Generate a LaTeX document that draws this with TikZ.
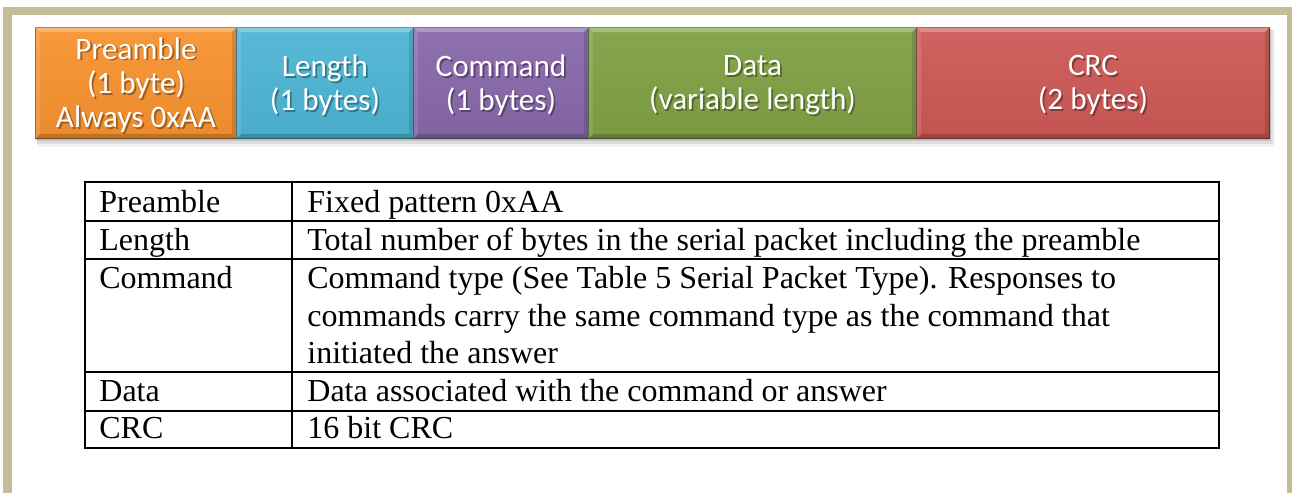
\documentclass[tikz,border=0pt]{standalone}
\usepackage{fontspec}
\setmainfont{Liberation Serif}
\newfontfamily\fieldfont{Carlito}
\usetikzlibrary{calc}
\definecolor{frametan}{HTML}{C5BD98}
\definecolor{cPre}{HTML}{F7922F}
\definecolor{cLen}{HTML}{4DB5D3}
\definecolor{cCmd}{HTML}{8868AA}
\definecolor{cDat}{HTML}{80A043}
\definecolor{cCrc}{HTML}{CD5856}
\newcommand\shtxt[1]{\makebox[0pt][l]{\raisebox{-0.9pt}{\hspace{0.9pt}\textcolor{shcol}{#1}}}#1}
\newcommand\bevel[1]{%
  \fill[white,opacity=.28] (#1.north west) -- (#1.north east) -- ($(#1.north east)+(-5,5)$) -- ($(#1.north west)+(5,5)$) -- cycle;
  \fill[white,opacity=.12] (#1.north west) -- (#1.south west) -- ($(#1.south west)+(5,-5)$) -- ($(#1.north west)+(5,5)$) -- cycle;
  \fill[black,opacity=.18] (#1.south west) -- (#1.south east) -- ($(#1.south east)+(-5,-5)$) -- ($(#1.south west)+(5,-5)$) -- cycle;
  \fill[black,opacity=.12] (#1.north east) -- (#1.south east) -- ($(#1.south east)+(-5,-5)$) -- ($(#1.north east)+(-5,5)$) -- cycle;
}
\tikzset{
  field/.style={anchor=north west, inner sep=0pt, minimum height=111*0.5pt,
    draw=#1!60!black, line width=0.5pt, top color=#1!94!white, bottom color=#1!95!black},
  fieldtext/.style={inner sep=0pt, text=white, align=center,
    font=\fieldfont\fontsize{15.6pt}{17.2pt}\selectfont,
    execute at begin node={\colorlet{shcol}{#1!65!black}}},
  cell/.style={anchor=base west, inner sep=0pt, font=\fontsize{16pt}{18.85pt}\selectfont},
  tablerule/.style={line width=1pt, draw=black},
  tanbar/.style={fill=frametan, draw=none}
}
\begin{document}
\begin{tikzpicture}[x=0.5pt,y=-0.5pt]
\useasboundingbox (0,0) rectangle (1292,493);
\fill[white] (0,0) rectangle (1292,493);
% frame
\fill[tanbar] (3,7) rectangle (1292,15);
\fill[tanbar] (3,7) rectangle (12,493);
\fill[tanbar] (1287,7) rectangle (1292,493);
% strip shadow
\fill[black,opacity=.06] (37,30) rectangle (1275,147);
\fill[black,opacity=.08] (37,30) rectangle (1273,144);
\fill[black,opacity=.12] (36,29) rectangle (1271,141);
% fields
\node[field=cPre, minimum width=201*0.5pt] (pre) at (35,27) {};
\node[field=cLen, minimum width=177*0.5pt] (len) at (236,27) {};
\node[field=cCmd, minimum width=175*0.5pt] (cmd) at (413,27) {};
\node[field=cDat, minimum width=328*0.5pt] (dat) at (588,27) {};
\node[field=cCrc, minimum width=353*0.5pt] (crc) at (916,27) {};
\bevel{pre}\bevel{len}\bevel{cmd}\bevel{dat}\bevel{crc}
\node[fieldtext=cPre] (pret) at ($(pre.center)+(0,3)$) {\shtxt{Preamble}\\\shtxt{(1 byte)}\\\shtxt{Always 0xAA}};
\node[fieldtext=cLen] (lent) at ($(len.center)+(0,3)$) {\shtxt{Length}\\\shtxt{(1 bytes)}};
\node[fieldtext=cCmd] (cmdt) at ($(cmd.center)+(0,3)$) {\shtxt{Command}\\\shtxt{(1 bytes)}};
\node[fieldtext=cDat] (datt) at ($(dat.center)+(0,3)$) {\shtxt{Data}\\\shtxt{(variable length)}};
\node[fieldtext=cCrc] (crct) at ($(crc.center)+(0,3)$) {\shtxt{CRC}\\\shtxt{(2 bytes)}};
% table
\draw[tablerule] (85,182) rectangle (1219,448);
\draw[tablerule] (292,182) -- (292,448);
\draw[tablerule] (85,221) -- (1219,221);
\draw[tablerule] (85,259) -- (1219,259);
\draw[tablerule] (85,372) -- (1219,372);
\draw[tablerule] (85,411) -- (1219,411);
\node[cell] (k1) at (99,212) {Preamble};
\node[cell] (v1) at (307,212) {Fixed pattern 0xAA};
\node[cell] (k2) at (99,250) {Length};
\node[cell] (v2) at (307,250) {Total number of bytes in the serial packet including the preamble};
\node[cell] (k3) at (99,288) {Command};
\node[cell] (v3a) at (307,288) {Command type (See Table 5 Serial Packet Type). Responses to};
\node[cell] (v3b) at (307,326) {commands carry the same command type as the command that};
\node[cell] (v3c) at (307,363) {initiated the answer};
\node[cell] (k4) at (99,401) {Data};
\node[cell] (v4) at (307,401) {Data associated with the command or answer};
\node[cell] (k5) at (99,438) {CRC};
\node[cell] (v5) at (307,438) {16 bit CRC};
\end{tikzpicture}
\end{document}
